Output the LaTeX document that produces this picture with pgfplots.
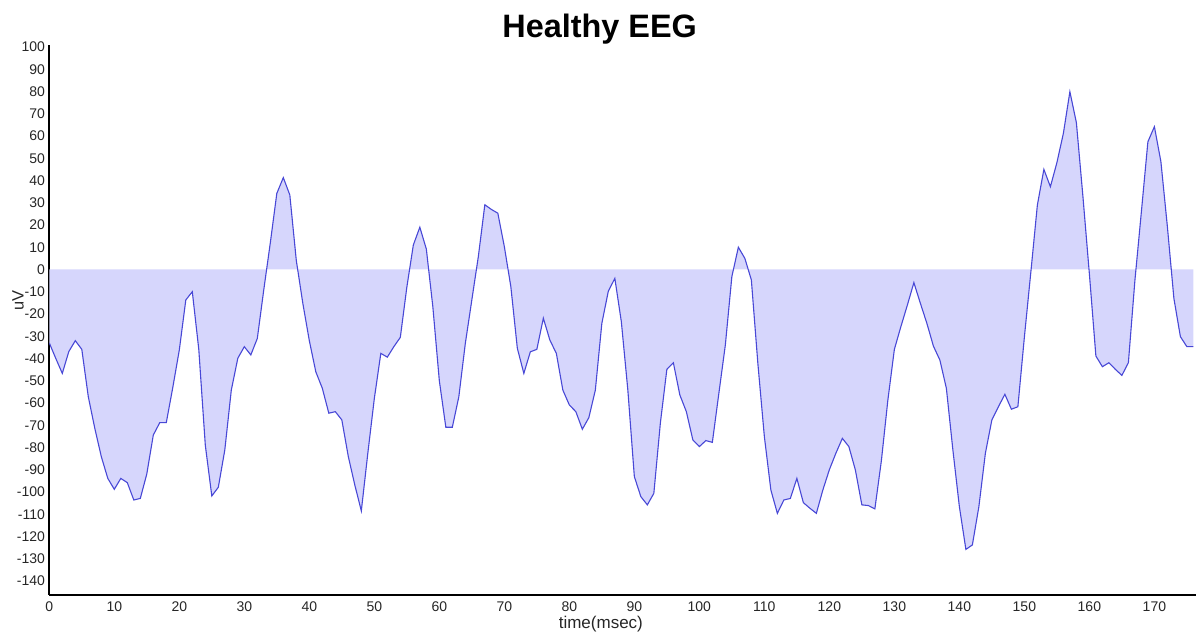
\documentclass[border=0pt]{standalone}
\usepackage{fontspec}
\setmainfont{Liberation Sans}
\usepackage{pgfplots}
\pgfplotsset{compat=1.18}
\usepackage{pgfplotstable}
\definecolor{eegline}{RGB}{72,72,214}
\definecolor{eegfill}{RGB}{214,214,252}

\pgfplotstableread{
x y
0 -33
1 -40
2 -46.7
3 -36.9
4 -32
5 -35.9
6 -57.2
7 -71.4
8 -84.1
9 -93.9
10 -98.8
11 -93.9
12 -95.8
13 -103.6
14 -102.9
15 -91.9
16 -74.4
17 -68.8
18 -68.8
19 -53
20 -36.2
21 -13.7
22 -10
23 -36
24 -79
25 -101.8
26 -97.9
27 -81.1
28 -54.2
29 -39.9
30 -34.7
31 -38.4
32 -31
33 -9
34 12
35 34.2
36 41.3
37 33.5
38 4
39 -15.2
40 -32
41 -46
42 -53.4
43 -64.6
44 -63.9
45 -67.6
46 -84.1
47 -96.9
48 -108.5
49 -82.6
50 -58
51 -37.7
52 -39.4
53 -34.7
54 -30.5
55 -8
56 11
57 19
58 9.2
59 -16.7
60 -50
61 -70.9
62 -70.9
63 -57.2
64 -33.2
65 -13.7
66 5.8
67 29.1
68 27
69 25.3
70 10.3
71 -7.7
72 -35.4
73 -46.7
74 -37
75 -35.9
76 -21.9
77 -31.7
78 -37.7
79 -54.2
80 -60.9
81 -63.9
82 -71.8
83 -66.6
84 -54.2
85 -24.2
86 -9.7
87 -4
88 -23.5
89 -54.2
90 -93.1
91 -102.1
92 -105.8
93 -100.6
94 -69.1
95 -44.9
96 -41.9
97 -56.4
98 -63.9
99 -76.6
100 -79.6
101 -76.9
102 -77.7
103 -55.7
104 -33.9
105 -3.2
106 10
107 5
108 -4.7
109 -42.2
110 -75.1
111 -99.1
112 -109.6
113 -103.6
114 -102.9
115 -93.9
116 -104.8
117 -107.3
118 -109.6
119 -99.1
120 -90
121 -82.6
122 -75.9
123 -79.6
124 -90.1
125 -105.8
126 -106.1
127 -107.6
128 -86
129 -58.7
130 -35.9
131 -25.7
132 -16
133 -5.9
134 -15.2
135 -24.2
136 -34.4
137 -40.7
138 -53.4
139 -81.1
140 -106.6
141 -125.8
142 -123.8
143 -106.6
144 -82.6
145 -67.6
146 -61.7
147 -56.1
148 -62.8
149 -61.7
150 -30.4
151 -1
152 29
153 45
154 37.2
155 48
156 61.2
157 79.9
158 66
159 33
160 -2
161 -38.9
162 -43.7
163 -41.9
164 -44.9
165 -47.6
166 -41.9
167 -5
168 26
169 57.4
170 64.2
171 48.5
172 19.2
173 -13
174 -30.2
175 -34.7
176 -34.7
}\eeg

\begin{document}
\begin{tikzpicture}
\useasboundingbox (-24.65pt,-20.5pt) rectangle ++(598pt,318pt);
\begin{axis}[
  scale only axis, width=573.35pt, height=275pt,
  xmin=0, xmax=176.4, ymin=-146.3, ymax=100.9,
  axis x line=bottom, axis y line=left,
  axis line style={-, line width=1.1pt, black},
  xtick={0,10,...,170}, ytick={-140,-130,...,100},
  major tick length=0pt,
  tick label style={font=\fontsize{7}{8}\selectfont, text=black!85},
  /pgf/number format/assume math mode=true,
  yticklabel style={inner xsep=2pt},
  title={Healthy EEG},
  every axis title/.style={font=\fontsize{16.2}{18}\selectfont\bfseries, at={(axis description cs:0.48,1)}, anchor=base, yshift=3.5pt},
  xlabel={time(msec)},
  xlabel style={font=\fontsize{8.5}{10}\selectfont, text=black!85, at={([yshift=-14.5pt]axis description cs:0.481,0)}, anchor=center},
  ylabel={uV},
  ylabel style={font=\fontsize{8.2}{10}\selectfont, text=black!85, at={([xshift=-15.6pt]axis description cs:0,0.536)}, anchor=center, rotate=0},
]
\addplot[fill=eegfill, draw=none] table {\eeg} \closedcycle;
\addplot[draw=eegline, line width=0.55pt] table {\eeg};
\end{axis}
\end{tikzpicture}
\end{document}
